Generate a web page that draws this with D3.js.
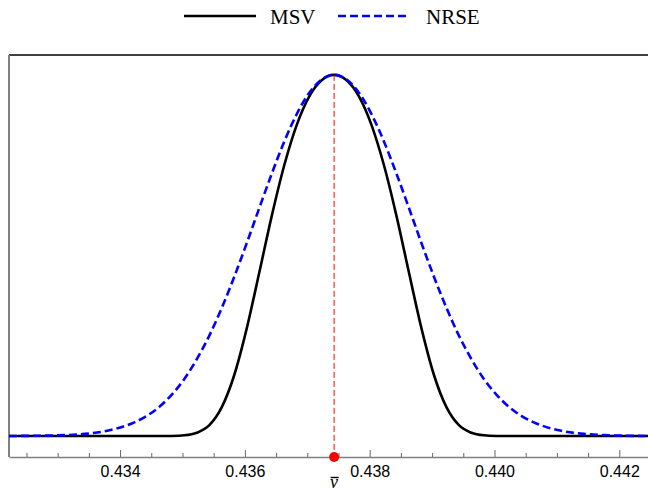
<!DOCTYPE html>
<html>
<head>
<meta charset="utf-8">
<script src="https://cdn.jsdelivr.net/npm/d3@7"></script>
<style>
  html, body { margin: 0; padding: 0; background: #fff; }
  svg { display: block; }
</style>
</head>
<body>
<svg id="chart"></svg>
<script>
// frequency grid (shared by both curves)
const nu = [0.43222, 0.43283, 0.43343, 0.43383, 0.43423, 0.43443, 0.43463, 0.43483, 0.43503, 0.43523,
  0.43543, 0.43563, 0.43583, 0.43603, 0.43623, 0.43643, 0.43663, 0.43683, 0.43703, 0.43723,
  0.43743,
  0.43763, 0.43783, 0.43803, 0.43823, 0.43843, 0.43863, 0.43883, 0.43903, 0.43923, 0.43943,
  0.43963, 0.43983, 0.44003, 0.44023, 0.44043, 0.44063, 0.44103, 0.44143, 0.44203, 0.44246]

// normalised curve heights (peak = 1)
const msv = [0, 0, 0, 0, 0, 0, 0, 0.0003, 0.002, 0.009,
  0.030, 0.080, 0.169, 0.298, 0.452, 0.609, 0.749, 0.861, 0.940, 0.985,
  1,
  0.985, 0.940, 0.861, 0.749, 0.609, 0.452, 0.298, 0.169, 0.080, 0.030,
  0.009, 0.002, 0.0003, 0, 0, 0, 0, 0, 0, 0]

const nrse = [0.0002, 0.0012, 0.006, 0.016, 0.038, 0.056, 0.081, 0.115, 0.158, 0.213,
  0.278, 0.355, 0.441, 0.534, 0.631, 0.726, 0.815, 0.891, 0.950, 0.987,
  1,
  0.987, 0.950, 0.891, 0.815, 0.726, 0.631, 0.534, 0.441, 0.355, 0.278,
  0.213, 0.158, 0.115, 0.081, 0.056, 0.038, 0.016, 0.006, 0.0012, 0.0003]

const vBar = 0.43743
const majorTicks = [0.434, 0.436, 0.438, 0.440, 0.442]
const minorTicks = d3.range(0.4325, 0.44201, 0.0005)

const series = [
  { name: 'MSV', values: msv, color: '#000', dash: null },
  { name: 'NRSE', values: nrse, color: '#0000ff', dash: '8,4' }
]

const width = 648
const height = 492
const plot = { left: 9, right: 648, top: 55, bottom: 457 }

const svg = d3.select('#chart')
  .attr('width', width)
  .attr('height', height)

const x = d3.scaleLinear()
  .domain([0.43222, 0.44246])
  .range([plot.left, plot.right])

const y = d3.scaleLinear()
  .domain([-0.058, 1.055])
  .range([plot.bottom, plot.top])

// frame: black top, grey left
svg.append('line')
  .attr('x1', plot.left).attr('x2', plot.right)
  .attr('y1', plot.top).attr('y2', plot.top)
  .attr('stroke', '#000').attr('stroke-width', 1.5)

svg.append('line')
  .attr('x1', plot.left).attr('x2', plot.left)
  .attr('y1', plot.top).attr('y2', plot.bottom)
  .attr('stroke', '#808080').attr('stroke-width', 2)

// curves
const line = d3.line()
  .x(d => x(d[0]))
  .y(d => y(d[1]))
  .curve(d3.curveMonotoneX)

series.forEach(s => {
  svg.append('path')
    .datum(nu.map((v, i) => [v, s.values[i]]))
    .attr('fill', 'none')
    .attr('stroke', s.color)
    .attr('stroke-width', 2.6)
    .attr('stroke-dasharray', s.dash)
    .attr('d', line)
})

// red marker at the mean frequency
svg.append('line')
  .attr('x1', x(vBar)).attr('x2', x(vBar))
  .attr('y1', y(1)).attr('y2', plot.bottom)
  .attr('stroke', '#ff0000')
  .attr('stroke-width', 1)
  .attr('stroke-dasharray', '6,3')

// x axis with inward ticks
const xAxis = svg.append('g')
  .attr('transform', `translate(0,${plot.bottom})`)
  .call(d3.axisBottom(x)
    .tickValues(majorTicks)
    .tickFormat(d3.format('.3f'))
    .tickSizeInner(-7)
    .tickSizeOuter(0)
    .tickPadding(9))

xAxis.select('.domain').attr('stroke', '#808080').attr('stroke-width', 1.5)
xAxis.selectAll('.tick line').attr('stroke', '#666')
xAxis.selectAll('.tick text')
  .attr('font-family', '"Liberation Sans", Arial, sans-serif')
  .attr('font-size', 16)
  .attr('fill', '#000')

const minor = svg.append('g')
  .attr('transform', `translate(0,${plot.bottom})`)
  .call(d3.axisBottom(x)
    .tickValues(minorTicks.filter(t => !majorTicks.some(m => Math.abs(m - t) < 1e-7)))
    .tickFormat('')
    .tickSizeInner(-4)
    .tickSizeOuter(0))
minor.select('.domain').remove()
minor.selectAll('.tick line').attr('stroke', '#666')

svg.append('circle')
  .attr('cx', x(vBar))
  .attr('cy', plot.bottom)
  .attr('r', 5)
  .attr('fill', '#ff0000')

// axis label: italic nu with a bar drawn above it
svg.append('text')
  .attr('x', x(vBar))
  .attr('y', 488)
  .attr('text-anchor', 'middle')
  .attr('font-family', '"Liberation Serif", "Times New Roman", serif')
  .attr('font-style', 'italic')
  .attr('font-size', 18)
  .text('\u03bd')

svg.append('line')
  .attr('x1', x(vBar) - 3.5).attr('x2', x(vBar) + 4.5)
  .attr('y1', 477.5).attr('y2', 477.5)
  .attr('stroke', '#000')
  .attr('stroke-width', 1.4)

// legend
const legend = svg.append('g')
const legendItems = [
  { s: series[0], x0: 184, tx: 270 },
  { s: series[1], x0: 338, tx: 426 }
]
legendItems.forEach(d => {
  legend.append('line')
    .attr('x1', d.x0).attr('x2', d.x0 + 72)
    .attr('y1', 16).attr('y2', 16)
    .attr('stroke', d.s.color)
    .attr('stroke-width', 2.6)
    .attr('stroke-dasharray', d.s.dash)
  legend.append('text')
    .attr('x', d.tx)
    .attr('y', 24)
    .attr('font-family', '"Liberation Serif", "Times New Roman", serif')
    .attr('font-size', 21)
    .attr('fill', '#000')
    .text(d.s.name)
})
</script>
</body>
</html>
